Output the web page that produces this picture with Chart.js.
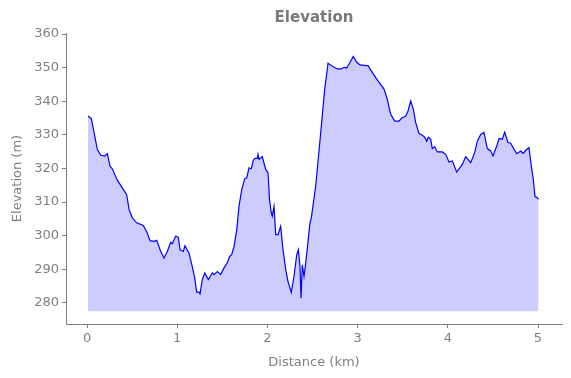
<!DOCTYPE html>
<html>
<head>
<meta charset="utf-8">
<script src="https://cdn.jsdelivr.net/npm/chart.js@4/dist/chart.umd.min.js"></script>
<style>
  html, body { margin: 0; padding: 0; background: #ffffff; }
  #wrap { width: 571px; height: 378px; position: relative; }
</style>
</head>
<body>
<div id="wrap"><canvas id="c" width="571" height="378"></canvas></div>
<script>
const distanceKm = [
  0.011, 0.048, 0.078, 0.114, 0.152, 0.196, 0.225, 0.255, 0.280, 0.336,
  0.391, 0.440, 0.466, 0.502, 0.551, 0.624, 0.668, 0.698, 0.743, 0.773,
  0.810, 0.854, 0.890, 0.928, 0.946, 0.983, 1.012, 1.031, 1.068, 1.086,
  1.131, 1.167, 1.194, 1.216, 1.242, 1.253, 1.278, 1.305, 1.345, 1.389,
  1.408, 1.445, 1.482, 1.519, 1.555, 1.582, 1.604, 1.630, 1.660, 1.685,
  1.715, 1.748, 1.771, 1.796, 1.822, 1.844, 1.863, 1.888, 1.896, 1.907,
  1.943, 1.981, 2.007, 2.023, 2.043, 2.054, 2.073, 2.092, 2.118, 2.147,
  2.173, 2.203, 2.228, 2.265, 2.295, 2.325, 2.343, 2.361, 2.373, 2.387,
  2.406, 2.425, 2.472, 2.487, 2.535, 2.591, 2.635, 2.672, 2.720, 2.775,
  2.819, 2.849, 2.879, 2.916, 2.952, 2.990, 3.027, 3.119, 3.137, 3.212,
  3.293, 3.329, 3.367, 3.411, 3.459, 3.496, 3.533, 3.559, 3.589, 3.618,
  3.644, 3.681, 3.717, 3.744, 3.766, 3.784, 3.810, 3.828, 3.855, 3.884,
  3.939, 3.977, 4.013, 4.050, 4.099, 4.161, 4.198, 4.254, 4.298, 4.327,
  4.365, 4.401, 4.438, 4.476, 4.501, 4.549, 4.568, 4.604, 4.631, 4.667,
  4.697, 4.734, 4.764, 4.808, 4.837, 4.864, 4.900, 4.926, 4.948, 4.967,
  4.992, 5.006
];
const elevationM = [
  335.6, 334.8, 330.7, 325.7, 323.9, 323.7, 324.4, 320.7, 319.9, 316.5,
  314.2, 312.2, 307.8, 305.3, 303.8, 303.0, 300.8, 298.5, 298.3, 298.6,
  295.8, 293.3, 295.3, 298.0, 297.6, 299.8, 299.5, 295.8, 295.3, 297.0,
  294.8, 290.8, 287.4, 283.2, 283.2, 282.7, 286.9, 288.9, 286.9, 288.9,
  288.4, 289.3, 288.4, 290.4, 291.9, 293.8, 294.3, 296.8, 301.8, 308.7,
  313.7, 316.9, 317.2, 320.2, 319.9, 322.5, 323.0, 323.0, 324.2, 322.7,
  323.5, 319.7, 318.7, 310.7, 306.8, 305.8, 308.7, 300.3, 300.3, 302.8,
  295.8, 289.9, 286.4, 283.1, 287.9, 294.3, 295.8, 290.8, 281.4, 291.3,
  287.9, 291.9, 303.8, 305.3, 314.7, 330.7, 343.6, 351.3, 350.4, 349.6,
  349.6, 350.1, 349.9, 351.6, 353.3, 351.6, 350.8, 350.5, 349.6, 346.6,
  343.6, 340.6, 336.1, 334.1, 334.1, 335.1, 335.6, 337.1, 340.1, 337.6,
  333.6, 330.4, 329.9, 329.3, 328.1, 329.3, 328.7, 325.9, 326.5, 324.9,
  324.9, 324.2, 321.9, 322.2, 318.9, 321.2, 323.5, 321.7, 324.7, 328.1,
  330.1, 330.7, 325.9, 325.2, 323.7, 327.2, 328.9, 328.7, 330.8, 327.7,
  327.5, 325.7, 324.4, 325.2, 324.5, 325.4, 326.2, 320.7, 316.7, 311.6,
  311.3, 310.8
];
const fillBase = 277.5;
const xTicks = [0, 1, 2, 3, 4, 5];
const yTicks = [280, 290, 300, 310, 320, 330, 340, 350, 360];

const points = distanceKm.map((d, i) => ({ x: d, y: elevationM[i] }));
const gray = '#808080';
const fontFam = "'DejaVu Sans', sans-serif";

new Chart(document.getElementById('c'), {
  type: 'line',
  data: {
    datasets: [{
      data: points,
      borderColor: '#0000ff',
      borderWidth: 1.2,
      backgroundColor: 'rgba(0,0,255,0.2)',
      fill: { value: fillBase },
      pointRadius: 0,
      tension: 0
    }]
  },
  options: {
    responsive: false,
    animation: false,
    layout: { padding: { left: 0, right: 9, top: 0, bottom: 0 } },
    plugins: {
      legend: { display: false },
      tooltip: { enabled: false },
      title: {
        display: true,
        text: 'Elevation',
        fullSize: false,
        color: '#7a7a7a',
        font: { family: fontFam, size: 15, weight: 'bold', lineHeight: 1.2 },
        padding: { top: 9, bottom: 6 }
      }
    },
    scales: {
      x: {
        type: 'linear',
        min: -0.233,
        max: 5.266,
        afterFit: (s) => { s.height = 54; },
        afterBuildTicks: (s) => { s.ticks = xTicks.map(v => ({ value: v })); },
        ticks: {
          color: gray,
          font: { family: fontFam, size: 13 },
          padding: 3,
          maxRotation: 0,
          callback: (v) => String(v)
        },
        grid: { drawOnChartArea: false, drawTicks: true, tickLength: 4, color: gray },
        border: { display: true, color: gray, width: 1 },
        title: {
          display: true,
          text: 'Distance (km)',
          color: gray,
          font: { family: fontFam, size: 13 },
          padding: { top: 2, bottom: 8 }
        }
      },
      y: {
        type: 'linear',
        min: 273.7,
        max: 360.3,
        afterFit: (s) => { s.width = 66; },
        afterBuildTicks: (s) => { s.ticks = yTicks.map(v => ({ value: v })); },
        ticks: {
          color: gray,
          font: { family: fontFam, size: 13 },
          padding: 3,
          callback: (v) => String(v)
        },
        grid: { drawOnChartArea: false, drawTicks: true, tickLength: 4, color: gray },
        border: { display: true, color: gray, width: 1 },
        title: {
          display: true,
          text: 'Elevation (m)',
          color: gray,
          font: { family: fontFam, size: 13 },
          padding: { top: 10, bottom: 4 }
        }
      }
    }
  }
});
</script>
</body>
</html>
